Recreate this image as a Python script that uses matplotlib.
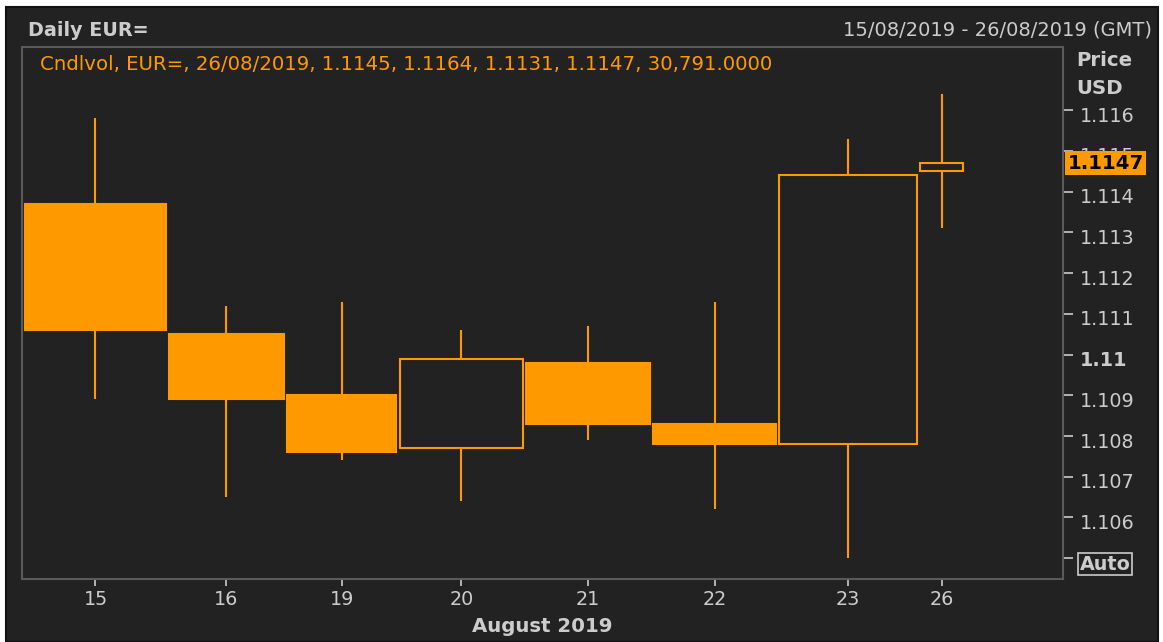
import numpy as np
import matplotlib.pyplot as plt
from matplotlib.patches import Rectangle
from matplotlib import transforms

# daily candles, EUR= (width of each candle follows its volume)
days = ['15', '16', '19', '20', '21', '22', '23', '26']
opens = [1.1137, 1.1105, 1.1090, 1.1077, 1.1098, 1.1083, 1.1078, 1.1145]
highs = [1.1158, 1.1112, 1.1113, 1.1106, 1.1107, 1.1113, 1.1153, 1.1164]
lows = [1.1089, 1.1065, 1.1074, 1.1064, 1.1079, 1.1062, 1.1050, 1.1131]
closes = [1.1106, 1.1089, 1.1076, 1.1099, 1.1083, 1.1078, 1.1144, 1.1147]
volumes = [100200, 82300, 78000, 88000, 88100, 88000, 98100, 30791]

ytick_vals = [1.105, 1.106, 1.107, 1.108, 1.109, 1.110, 1.111, 1.112, 1.113, 1.114, 1.115, 1.116]
ytick_labels = ['Auto', '1.106', '1.107', '1.108', '1.109', '1.11', '1.111', '1.112', '1.113', '1.114', '1.115', '1.116']

bg = '#222222'
orange = '#ff9900'
grey = '#cccccc'

plt.rcParams['font.family'] = ['DejaVu Sans']

W, H = 1163, 642
fig = plt.figure(figsize=(W / 100, H / 100), dpi=100, facecolor='white')
fig.patches.append(Rectangle((6 / W, 0), 1152 / W, 635 / H, transform=fig.transFigure,
                             facecolor=bg, edgecolor='#111111', lw=1.5, zorder=-1))

ax = fig.add_axes([22 / W, (H - 579) / H, (1063 - 22) / W, (579 - 47) / H])
ax.set_zorder(1)
ax.set_facecolor(bg)

o = np.array(opens)
h = np.array(highs)
l = np.array(lows)
c = np.array(closes)
vol = np.array(volumes, dtype=float)

gap = 2500
lefts = gap * (np.arange(len(vol)) + 1) + np.concatenate([[0], np.cumsum(vol[:-1])])
centers = lefts + vol / 2
body_lo = np.minimum(o, c)
body_hi = np.maximum(o, c)
faces = [orange if cc < oo else bg for oo, cc in zip(o, c)]

ax.bar(centers, body_hi - body_lo, width=vol, bottom=body_lo, facecolor=faces,
       edgecolor=orange, linewidth=1.5, zorder=3)
ax.vlines(centers, body_hi, h, color=orange, lw=1.5, zorder=2)
ax.vlines(centers, l, body_lo, color=orange, lw=1.5, zorder=2)

ax.set_xlim(0, 745000)
ax.set_ylim(1.10449, 1.11755)

for sp in ax.spines.values():
    sp.set_color('#5a5a5a')
    sp.set_linewidth(1.5)

######### TICKS #########

ax.yaxis.tick_right()
ax.set_yticks(ytick_vals, ytick_labels)
ax.tick_params(axis='y', colors=grey, length=7, width=1.2, pad=5, labelsize=13.8)
shift = transforms.ScaledTranslation(0, -4 / 100, fig.dpi_scale_trans)
for lbl in ax.get_yticklabels():
    lbl.set_transform(lbl.get_transform() + shift)
    if lbl.get_text() == '1.11':
        lbl.set_fontweight('bold')
    if lbl.get_text() == 'Auto':
        lbl.set_fontweight('bold')
        lbl.set_bbox(dict(boxstyle='square,pad=0.08', fc='none', ec=grey, lw=1.2))

ax.set_xticks(centers, days)
ax.tick_params(axis='x', colors=grey, length=5, width=1.2, pad=3, labelsize=13.8)
ax.set_xlabel('August 2019', color=grey, fontsize=14.2, fontweight='bold', labelpad=6)

######### TEXT #########

fig.text(28 / W, 1 - 30 / H, 'Daily EUR=', color=grey, fontsize=13.8, fontweight='bold', va='center')
fig.text(1152 / W, 1 - 30 / H, '15/08/2019 - 26/08/2019 (GMT)', color=grey, fontsize=14,
         ha='right', va='center')
fig.text(1076 / W, 1 - 60 / H, 'Price', color=grey, fontsize=14.2, fontweight='bold', va='center')
fig.text(1076 / W, 1 - 88 / H, 'USD', color=grey, fontsize=14.2, fontweight='bold', va='center')

legend = 'Cndlvol, EUR=, 26/08/2019, %.4f, %.4f, %.4f, %.4f, %s' % (
    opens[-1], highs[-1], lows[-1], closes[-1], format(volumes[-1], ',.4f'))
ax.text(0.017, 0.968, legend, transform=ax.transAxes, color=orange, fontsize=14.2, va='center')

# last price marker on the axis
trans = transforms.blended_transform_factory(ax.transAxes, ax.transData)
ax.text(1.0045, closes[-1], '%.4f' % closes[-1], transform=trans, ha='left', va='center',
        color='black', fontsize=14.2, fontweight='bold', clip_on=False, zorder=5,
        bbox=dict(boxstyle='square,pad=0.12', fc=orange, ec='none'))

fig.savefig('out.png', dpi=100, facecolor=fig.get_facecolor())
